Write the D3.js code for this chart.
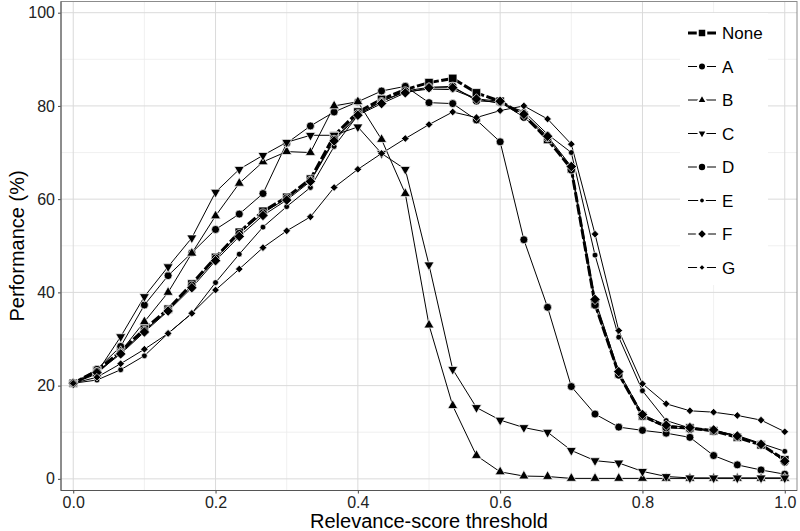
<!DOCTYPE html>
<html>
<head>
<meta charset="utf-8">
<script src="https://cdn.jsdelivr.net/npm/d3@7"></script>
<style>
  body { margin: 0; background: #fff; }
  svg { display: block; font-family: "Liberation Sans", Arial, sans-serif; }
</style>
</head>
<body>
<svg width="800" height="531"></svg>
<script>
// thresholds k/30
const thresholds = d3.range(31).map(k => k / 30);
const seriesNames = ["None", "A", "B", "C", "D", "E", "F", "G"];

const valNone = [20.5, 23.2, 27.3, 32.1, 36.4, 41.8, 47.5, 52.9, 57.4, 60.4, 64.3, 73.6, 78.7, 81.4, 83.5, 85.0, 85.9, 82.8, 81.0, 78.0, 72.8, 66.5, 37.5, 22.5, 13.5, 11.2, 10.9, 10.3, 8.9, 7.3, 4.1];
const valA = [20.5, 23.5, 28.4, 37.3, 43.6, 48.5, 53.5, 56.8, 61.2, 72.0, 75.7, 78.7, 80.9, 83.2, 84.2, 80.7, 80.5, 77.0, 72.3, 51.3, 36.8, 19.8, 13.9, 11.1, 10.4, 9.8, 8.9, 5.0, 3.0, 1.9, 1.0];
const valB = [20.5, 22.5, 27.3, 33.7, 40.0, 48.4, 56.4, 63.4, 68.0, 70.2, 70.0, 80.0, 80.9, 72.8, 61.2, 33.0, 15.7, 5.0, 1.5, 0.6, 0.5, 0.1, 0.1, 0.1, 0.1, 0.1, 0.1, 0.1, 0.1, 0.1, 0.1];
const valC = [20.5, 22.8, 30.5, 39.1, 45.5, 51.7, 61.5, 66.4, 69.4, 72.2, 73.7, 73.7, 75.5, 69.8, 66.4, 45.9, 23.5, 15.3, 12.6, 11.0, 10.0, 6.1, 3.9, 3.4, 1.6, 0.5, 0.2, 0.2, 0.2, 0.2, 0.2];
const valD = [20.5, 23.0, 27.0, 31.8, 36.2, 41.5, 47.3, 52.6, 57.0, 60.2, 64.0, 72.8, 78.3, 80.9, 83.2, 84.0, 84.2, 81.1, 80.8, 77.6, 73.2, 66.3, 37.3, 22.3, 13.4, 11.0, 10.7, 10.2, 9.0, 7.5, 3.6];
const valE = [20.5, 21.2, 23.4, 26.4, 31.2, 35.5, 42.1, 48.2, 54.0, 58.4, 62.5, 71.3, 78.0, 81.0, 83.0, 83.6, 83.5, 81.5, 80.5, 78.8, 73.9, 70.0, 48.0, 30.4, 18.9, 12.5, 10.9, 10.3, 9.3, 7.6, 5.9];
const valF = [20.5, 22.8, 26.8, 31.5, 36.0, 41.0, 46.8, 52.0, 56.5, 59.8, 63.8, 72.5, 78.0, 80.5, 82.8, 83.9, 83.9, 81.5, 81.0, 78.2, 73.5, 67.0, 38.5, 23.0, 13.8, 11.5, 11.0, 10.5, 9.2, 7.4, 3.8];
const valG = [20.5, 21.8, 24.7, 27.8, 31.2, 35.5, 40.5, 45.0, 49.6, 53.2, 56.2, 62.5, 66.4, 69.8, 73.0, 76.0, 78.7, 77.5, 79.0, 80.0, 77.2, 71.8, 52.5, 31.8, 20.4, 16.1, 14.6, 14.3, 13.6, 12.6, 10.1];

const xTicks = [0, 0.2, 0.4, 0.6, 0.8, 1.0];
const yTicks = [0, 20, 40, 60, 80, 100];

const allValues = [valNone, valA, valB, valC, valD, valE, valF, valG];

// marker paths
const sq = s => `M${-s/2},${-s/2}h${s}v${s}h${-s}Z`;
const circ = r => `M${r},0A${r},${r} 0 1,1 ${-r},0A${r},${r} 0 1,1 ${r},0Z`;
const triUp = s => { const h = s * Math.sqrt(3) / 2; return `M0,${-h*2/3}L${s/2},${h/3}L${-s/2},${h/3}Z`; };
const triDown = s => { const h = s * Math.sqrt(3) / 2; return `M0,${h*2/3}L${s/2},${-h/3}L${-s/2},${-h/3}Z`; };
const diam = h => `M0,${-h}L${h},0L0,${h}L${-h},0Z`;

const shapes = {
  None: sq(8.5), A: circ(4), B: triUp(10), C: triDown(10),
  D: circ(4.2), E: circ(2.9), F: diam(5.2), G: diam(3.8)
};

const series = seriesNames.map((name, i) => ({
  name,
  values: allValues[i].map((v, k) => ({ x: thresholds[k], y: v }))
}));

const svg = d3.select("svg");
const L = 61, R = 797, T = 1.5, B = 490.5;

const x = d3.scaleLinear().domain([-0.0172, 1.0172]).range([L, R]);
const y = d3.scaleLinear().domain([-2.5, 102.4]).range([B, T]);

// grid
const g = svg.append("g");
g.selectAll(".minx").data(d3.range(0.1, 1, 0.2)).join("line")
  .attr("x1", d => x(d)).attr("x2", d => x(d)).attr("y1", T).attr("y2", B)
  .attr("stroke", "#ececec").attr("stroke-width", 0.8);
g.selectAll(".miny").data(d3.range(10, 100, 20)).join("line")
  .attr("y1", d => y(d)).attr("y2", d => y(d)).attr("x1", L).attr("x2", R)
  .attr("stroke", "#ececec").attr("stroke-width", 0.8);
g.selectAll(".majx").data(xTicks).join("line")
  .attr("x1", d => x(d)).attr("x2", d => x(d)).attr("y1", T).attr("y2", B)
  .attr("stroke", "#dadada").attr("stroke-width", 1);
g.selectAll(".majy").data(yTicks).join("line")
  .attr("y1", d => y(d)).attr("y2", d => y(d)).attr("x1", L).attr("x2", R)
  .attr("stroke", "#dadada").attr("stroke-width", 1);

// axes
const xAxis = d3.axisBottom(x).tickValues(xTicks).tickFormat(d3.format(".1f")).tickSize(3);
const yAxis = d3.axisLeft(y).tickValues(yTicks).tickFormat(d3.format("d")).tickSize(3);

const gx = svg.append("g").attr("transform", `translate(0,${B})`).call(xAxis);
const gy = svg.append("g").attr("transform", `translate(${L},0)`).call(yAxis);
[gx, gy].forEach(a => {
  a.select(".domain").remove();
  a.selectAll(".tick line").attr("stroke", "#444");
  a.selectAll(".tick text").attr("fill", "#222").attr("font-size", 16)
    .attr("font-family", "Liberation Sans, Arial, sans-serif");
});
gy.selectAll(".tick text").attr("x", -6);

// lines
const line = d3.line().x(d => x(d.x)).y(d => y(d.y));
svg.append("g").selectAll("path").data(series).join("path")
  .attr("d", d => line(d.values))
  .attr("fill", "none")
  .attr("stroke", "#000")
  .attr("stroke-width", d => d.name === "None" ? 3 : 1)
  .attr("stroke-dasharray", d => d.name === "None" ? "10,2.5" : null)
  .attr("stroke-linejoin", "round");

// points
svg.append("g").selectAll("g").data(series).join("g")
  .selectAll("path").data(d => d.values.map(v => ({ ...v, name: d.name }))).join("path")
  .attr("transform", d => `translate(${x(d.x)},${y(d.y)})`)
  .attr("d", d => shapes[d.name])
  .attr("fill", "#000")
  .attr("stroke", "#fff")
  .attr("stroke-width", 0.7);

// panel border
svg.append("rect").attr("x", L).attr("y", T).attr("width", R - L).attr("height", B - T)
  .attr("fill", "none").attr("stroke", "#8c8c8c").attr("stroke-width", 1);
svg.append("line").attr("x1", L).attr("x2", L).attr("y1", T).attr("y2", B)
  .attr("stroke", "#555").attr("stroke-width", 1);
svg.append("line").attr("x1", L).attr("x2", R).attr("y1", B).attr("y2", B)
  .attr("stroke", "#555").attr("stroke-width", 1);

// legend
const leg = svg.append("g");
leg.append("rect").attr("x", 680).attr("y", 13).attr("width", 88).attr("height", 272).attr("fill", "#fff");
const item = leg.selectAll(".item").data(series).join("g")
  .attr("transform", (d, i) => `translate(688,${33 + i * 33.5})`);
item.append("line").attr("x1", 0).attr("x2", 28).attr("y1", 0).attr("y2", 0)
  .attr("stroke", "#000")
  .attr("stroke-width", d => d.name === "None" ? 3 : 1);
item.append("path").attr("transform", "translate(14,0)")
  .attr("d", d => shapes[d.name]).attr("fill", "#000").attr("stroke", "#fff").attr("stroke-width", 2);
item.append("text").attr("x", 34).attr("y", 0).attr("dy", "0.36em")
  .attr("font-size", 17).attr("fill", "#000").text(d => d.name);

// titles
svg.append("text").attr("x", (L + R) / 2).attr("y", 528).attr("text-anchor", "middle")
  .attr("font-size", 20).attr("fill", "#000").text("Relevance-score threshold");
svg.append("text").attr("transform", `translate(24,${(T + B) / 2}) rotate(-90)`)
  .attr("text-anchor", "middle").attr("font-size", 20).attr("fill", "#000").text("Performance (%)");
</script>
</body>
</html>
